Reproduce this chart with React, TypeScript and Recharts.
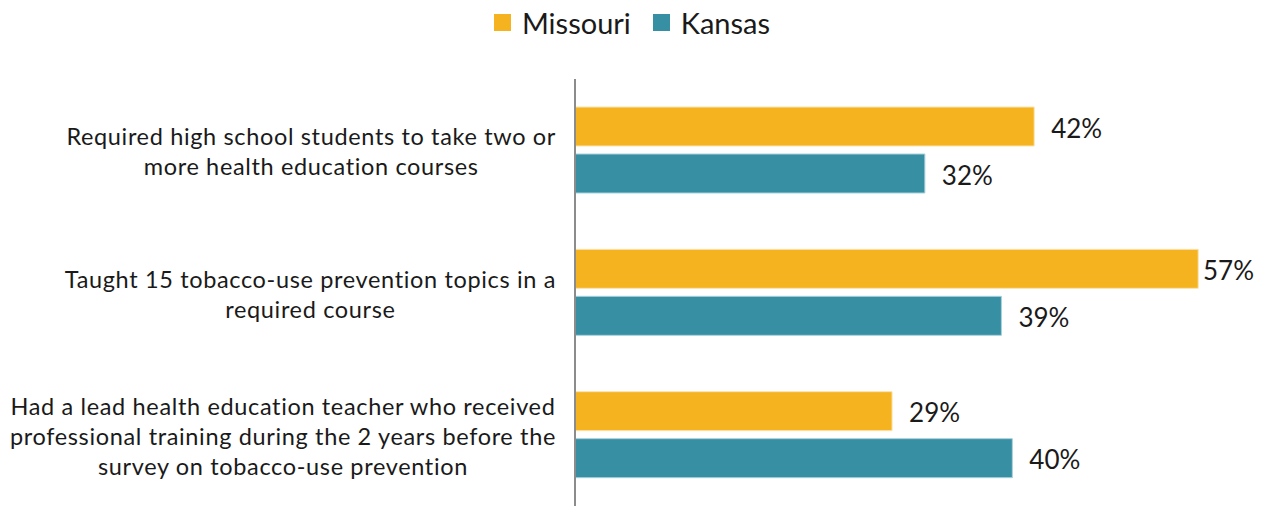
import React from 'react';
import { BarChart, Bar, XAxis, YAxis, LabelList, Legend } from 'recharts';

const categories = [
  ['Required high school students to take two or', 'more health education courses'],
  ['Taught 15 tobacco-use prevention topics in a', 'required course'],
  [
    'Had a lead health education teacher who received',
    'professional training during the 2 years before the',
    'survey on tobacco-use prevention',
  ],
];
const missouri = [42, 57, 29];
const kansas = [32, 39, 40];
const seriesNames = ['Missouri', 'Kansas'];
const seriesColors = ['#F5B41F', '#378FA3'];

const data = categories.map((lines, i) => ({
  name: lines.join(' '),
  missouri: missouri[i],
  kansas: kansas[i],
}));

const FONT = 'Lato, "Open Sans", sans-serif';
const TEXT = '#1a1a1a';

function CategoryTick(props: any) {
  const { y, payload } = props;
  const lines = categories[payload.index] || [];
  const lh = 30;
  const h = lines.length * lh;
  return (
    <foreignObject x={0} y={y - h / 2 + 1} width={556} height={h}>
      <div style={{ display: 'flex', justifyContent: 'flex-end', width: '100%' }}>
        <div
          style={{
            textAlign: 'center',
            fontFamily: FONT,
            fontSize: 23.5,
            letterSpacing: 0.65,
            lineHeight: `${lh}px`,
            color: TEXT,
            whiteSpace: 'nowrap',
          }}
        >
          {lines.map((l, k) => (
            <div key={k}>{l}</div>
          ))}
        </div>
      </div>
    </foreignObject>
  );
}

function ValueLabel(props: any) {
  const { x, y, width, height, value } = props;
  let tx = x + width + 17;
  if (tx > 1203) tx = 1203;
  return (
    <text
      x={tx}
      y={y + height / 2 + 2}
      dy="0.35em"
      fontFamily={FONT}
      fontSize={26}
      fill={TEXT}
    >
      {`${value}%`}
    </text>
  );
}

function LegendContent() {
  return (
    <div
      style={{
        display: 'flex',
        justifyContent: 'center',
        alignItems: 'center',
        fontFamily: FONT,
        fontSize: 29,
        color: TEXT,
        height: 40,
      }}
    >
      {seriesNames.map((n, i) => (
        <div key={n} style={{ display: 'flex', alignItems: 'center', marginRight: i === 0 ? 22 : 0 }}>
          <span
            style={{ width: 17, height: 17, background: seriesColors[i], display: 'inline-block', marginRight: 11 }}
          />
          <span>{n}</span>
        </div>
      ))}
    </div>
  );
}

export default function App() {
  return (
    <div style={{ position: 'absolute', left: 0, top: 0, background: '#fff' }}>
      <BarChart
        width={1264}
        height={506}
        data={data}
        layout="vertical"
        margin={{ top: 39, right: 33, bottom: 0, left: 0 }}
        barCategoryGap={28}
        barGap={8}
      >
        <Legend
          verticalAlign="top"
          align="center"
          height={40}
          wrapperStyle={{ top: 2, left: 0, width: 1264 }}
          content={<LegendContent />}
        />
        <XAxis type="number" domain={[0, 60]} hide />
        <YAxis
          type="category"
          dataKey="name"
          width={575}
          axisLine={{ stroke: '#8c8c8c', strokeWidth: 2 }}
          tickLine={false}
          tick={<CategoryTick />}
          interval={0}
        />
        <Bar dataKey="missouri" name={seriesNames[0]} fill={seriesColors[0]} stroke="#fbe3b0" strokeWidth={1} isAnimationActive={false}>
          <LabelList dataKey="missouri" content={<ValueLabel />} />
        </Bar>
        <Bar dataKey="kansas" name={seriesNames[1]} fill={seriesColors[1]} stroke="#a9d0da" strokeWidth={1} isAnimationActive={false}>
          <LabelList dataKey="kansas" content={<ValueLabel />} />
        </Bar>
      </BarChart>
    </div>
  );
}
